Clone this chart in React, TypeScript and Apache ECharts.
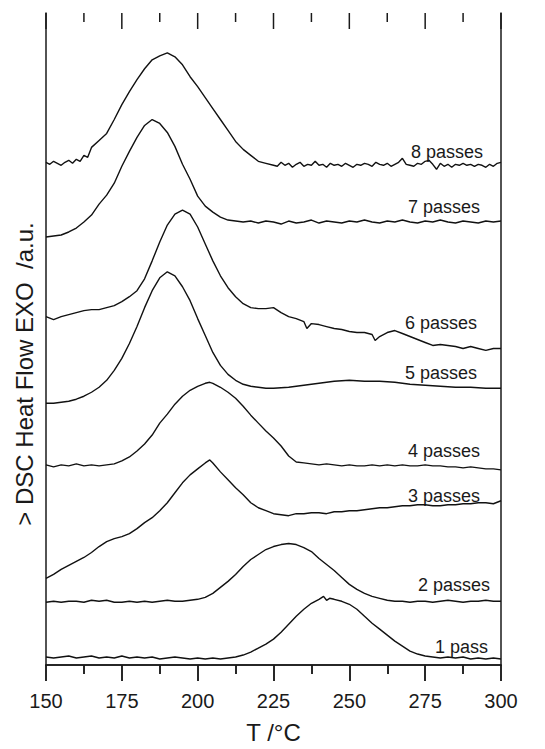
import React, { useEffect, useRef } from "react";
import * as echarts from "echarts";

// Temperature axis (°C)
const xTicks = [150, 175, 200, 225, 250, 275, 300];
// tick marks along the top frame: [T, isMajor]
const topTicks: [number, number][] = [
  [150, 1], [162.5, 0], [175, 1], [187.5, 0], [200, 1], [212.5, 0], [225, 1],
  [237.5, 0], [250, 1], [262.5, 0], [275, 1], [287.5, 0], [300, 1],
];

// DSC traces (heat flow, a.u., vertically offset as in the figure)
const pass1: [number, number][] = [
  [150, 8], [152.5, 7], [155, 8], [157.5, 9], [160, 7], [162.5, 8], [165, 9], [167.5, 7], [170, 8], [172.5, 7],
  [175, 9], [177.5, 7], [180, 8], [182.5, 7], [185, 8], [187.5, 6], [190, 7], [192.5, 8], [195, 7], [197.5, 6],
  [200, 7], [202.5, 6], [205, 7], [207.5, 6], [210, 7], [212.5, 8], [215, 10], [217.5, 13], [220, 17], [222.5, 21],
  [225, 26], [227.5, 33], [230, 41], [232.5, 49], [235, 56], [237.5, 62], [240, 66], [241.5, 69], [242.5, 65], [243.5, 67],
  [245, 66], [247.5, 64], [250, 61], [252.5, 56], [255, 49], [257.5, 42], [260, 36], [262.5, 30], [265, 24], [267.5, 19],
  [270, 14], [272.5, 11], [275, 9], [277.5, 8], [280, 7], [282.5, 8], [285, 7], [287.5, 8], [290, 6], [292.5, 7],
  [295, 6], [297.5, 7], [300, 6],
];
const pass2: [number, number][] = [
  [150, 63], [152.5, 64], [155, 63], [157.5, 64], [160, 64], [162.5, 63], [165, 65], [167.5, 64], [170, 65], [172.5, 63],
  [175, 63], [177.5, 64], [180, 63], [182.5, 64], [185, 63], [187.5, 64], [190, 65], [192.5, 64], [195, 64], [197.5, 65],
  [200, 66], [202.5, 68], [205, 72], [207.5, 78], [210, 84], [212.5, 91], [215, 99], [217.5, 106], [220, 111], [222.5, 116],
  [225, 119], [227.5, 121], [230, 122], [232.5, 121], [235, 118], [237.5, 114], [240, 107], [242.5, 101], [245, 95], [247.5, 88],
  [250, 81], [252.5, 76], [255, 72], [257.5, 69], [260, 67], [262.5, 65], [265, 64], [267.5, 64], [270, 63], [272.5, 64],
  [275, 64], [277.5, 63], [280, 64], [282.5, 65], [285, 64], [287.5, 63], [290, 64], [292.5, 64], [295, 65], [297.5, 64],
  [300, 64],
];
const pass3: [number, number][] = [
  [150, 87], [152.5, 91], [155, 96], [157.5, 100], [160, 104], [162.5, 108], [165, 113], [167.5, 119], [170, 124], [172.5, 127],
  [175, 129], [177.5, 132], [180, 137], [182.5, 143], [185, 148], [187.5, 155], [190, 163], [192.5, 173], [195, 183], [197.5, 191],
  [200, 197], [202.5, 203], [204, 206], [205, 203], [207.5, 194], [210, 186], [212.5, 178], [215, 171], [217.5, 163], [220, 158],
  [222.5, 155], [225, 152], [227.5, 151], [230, 150], [232.5, 152], [235, 152], [237.5, 153], [240, 153], [242.5, 152], [245, 154],
  [247.5, 154], [250, 155], [252.5, 155], [255, 156], [257.5, 157], [260, 158], [262.5, 158], [265, 159], [267.5, 160], [270, 160],
  [272.5, 161], [275, 161], [277.5, 160], [280, 160], [282.5, 161], [285, 161], [287.5, 162], [290, 162], [292.5, 163], [295, 163],
  [297.5, 162], [300, 165],
];
const pass4: [number, number][] = [
  [150, 201], [152.5, 199], [155, 201], [157.5, 200], [160, 202], [162.5, 200], [165, 201], [167.5, 200], [170, 201], [172.5, 202],
  [175, 205], [177.5, 209], [180, 215], [182.5, 222], [185, 231], [187.5, 243], [190, 252], [192.5, 262], [195, 270], [197.5, 276],
  [200, 280], [202.5, 283], [204, 284], [205, 283], [207.5, 279], [210, 274], [212.5, 268], [215, 260], [217.5, 251], [220, 243],
  [222.5, 235], [225, 228], [227.5, 220], [230, 210], [232.5, 204], [235, 203], [237.5, 202], [240, 201], [242.5, 202], [245, 201],
  [247.5, 200], [250, 201], [252.5, 200], [255, 200], [257.5, 201], [260, 200], [262.5, 201], [265, 200], [267.5, 201], [270, 200],
  [272.5, 200], [275, 201], [277.5, 200], [280, 200], [282.5, 199], [285, 199], [287.5, 198], [290, 199], [292.5, 198], [295, 197],
  [297.5, 197], [300, 196],
];
const pass5: [number, number][] = [
  [150, 263], [152.5, 263], [155, 264], [157.5, 265], [160, 267], [162.5, 270], [165, 274], [167.5, 279], [170, 286], [172.5, 296],
  [175, 308], [177.5, 323], [180, 340], [182.5, 359], [185, 376], [187.5, 389], [190, 395], [192.5, 391], [195, 380], [197.5, 366],
  [200, 348], [202.5, 331], [205, 314], [207.5, 301], [210, 292], [212.5, 286], [215, 282], [217.5, 280], [220, 279], [222.5, 278],
  [225, 278], [230, 279], [235, 281], [240, 283], [245, 285], [250, 286], [255, 285], [260, 285], [265, 284], [270, 282],
  [275, 281], [280, 280], [285, 279], [290, 279], [295, 278], [300, 278],
];
const pass6: [number, number][] = [
  [150, 350], [152.5, 347], [155, 350], [157.5, 352], [160, 354], [162.5, 356], [165, 357], [167.5, 357], [170, 359], [172.5, 361],
  [175, 365], [177.5, 370], [180, 376], [182.5, 388], [185, 406], [187.5, 425], [190, 442], [192.5, 453], [195, 457], [197.5, 453],
  [200, 440], [202.5, 423], [205, 406], [207.5, 391], [210, 379], [212.5, 370], [215, 363], [217.5, 359], [220, 358], [222.5, 358],
  [225, 359], [227.5, 354], [230, 350], [232.5, 348], [235, 345], [236, 338], [237.5, 343], [240, 342], [242.5, 340], [245, 338],
  [247.5, 337], [250, 335], [252.5, 334], [255, 334], [257.5, 332], [258.5, 326], [260, 330], [262.5, 334], [265, 336], [267.5, 333],
  [270, 330], [272.5, 327], [275, 324], [277.5, 321], [280, 322], [282.5, 321], [285, 320], [287.5, 318], [290, 320], [292.5, 318],
  [295, 316], [297.5, 318], [300, 318],
];
const pass7: [number, number][] = [
  [150, 430], [152.5, 431], [155, 432], [157.5, 435], [160, 439], [162.5, 445], [165, 452], [167.5, 463], [170, 472], [172.5, 484],
  [175, 501], [177.5, 516], [180, 530], [182.5, 542], [185, 548], [187.5, 544], [190, 535], [192.5, 521], [195, 503], [197.5, 488],
  [200, 471], [202.5, 461], [205, 455], [207.5, 450], [210, 447], [212.5, 446], [215, 445], [217.5, 446], [220, 444], [222.5, 446],
  [225, 445], [227.5, 443], [230, 446], [232.5, 444], [235, 445], [237.5, 447], [240, 444], [242.5, 446], [245, 445], [247.5, 444],
  [250, 446], [252.5, 445], [255, 447], [257.5, 445], [260, 444], [262.5, 446], [265, 445], [267.5, 447], [270, 445], [272.5, 444],
  [275, 446], [277.5, 445], [280, 447], [282.5, 445], [285, 444], [287.5, 446], [290, 445], [292.5, 444], [295, 446], [297.5, 445],
  [300, 446],
];
const pass8: [number, number][] = [
  [150, 505], [151.25, 503], [152.5, 506], [153.75, 504], [155, 502], [156.25, 505], [157.5, 507], [158.75, 504], [160, 508], [161.25, 506],
  [162.5, 512], [163.75, 510], [165, 520], [167.5, 527], [170, 534], [172.5, 548], [175, 563], [177.5, 576], [180, 588], [182.5, 599],
  [185, 608], [187.5, 612], [190, 615], [192.5, 611], [195, 603], [197.5, 591], [200, 581], [202.5, 570], [205, 559], [207.5, 548],
  [210, 537], [212.5, 526], [215, 518], [217.5, 512], [220, 506], [222.5, 504], [225, 502], [226.25, 501], [227.5, 505], [228.75, 502],
  [230, 504], [231.25, 500], [232.5, 503], [233.75, 505], [235, 501], [236.25, 503], [237.5, 502], [238.75, 506], [240, 502], [241.25, 503],
  [242.5, 500], [243.75, 504], [245, 502], [246.25, 503], [247.5, 501], [248.75, 504], [250, 502], [251.25, 500], [252.5, 503], [253.75, 502],
  [255, 504], [256.25, 503], [257.5, 501], [258.75, 505], [260, 503], [261.25, 502], [262.5, 504], [263.75, 501], [265, 503], [266.25, 505],
  [267.5, 509], [268.75, 503], [270, 502], [271.25, 501], [272.5, 504], [273.75, 503], [275, 506], [276.25, 507], [277.5, 503], [278.75, 498],
  [280, 504], [281.25, 501], [282.5, 503], [283.75, 500], [285, 503], [286.25, 502], [287.5, 504], [288.75, 502], [290, 503], [291.25, 501],
  [292.5, 503], [293.75, 502], [295, 500], [296.25, 503], [297.5, 501], [298.75, 504], [300, 505],
];

const seriesNames = ["1 pass", "2 passes", "3 passes", "4 passes", "5 passes", "6 passes", "7 passes", "8 passes"];
const seriesData = [pass1, pass2, pass3, pass4, pass5, pass6, pass7, pass8];

const Y_MAX = 655;
const FONT = "'Liberation Sans', Arial, Helvetica, sans-serif";
const INK = "#1a1a1a";

export default function App() {
  const ref = useRef<HTMLDivElement>(null);
  useEffect(() => {
    if (!ref.current) return;
    const chart = echarts.init(ref.current, null, { renderer: "svg" });

    // label anchors (right edge x px, middle y px)
    const labelPos: [number, number][] = [
      [488, 647], [490, 585], [480, 496], [480, 451], [477, 373], [477, 323], [480, 207], [483, 152],
    ];

    const lineSeries = seriesData.map((d, i) => ({
      name: seriesNames[i],
      type: "line",
      data: d,
      xAxisIndex: 0,
      yAxisIndex: 0,
      showSymbol: false,
      symbol: "none",
      lineStyle: { color: "#111", width: 1.4 },
    }));

    const topTickSeries = {
      type: "custom",
      clip: false,
      z: 10,
      data: topTicks,
      renderItem: (_p: any, api: any) => {
        const p = api.coord([api.value(0), Y_MAX]);
        const len = api.value(1) === 1 ? 16 : 9;
        return {
          type: "line",
          shape: { x1: p[0], y1: p[1], x2: p[0], y2: p[1] + len },
          style: { stroke: INK, lineWidth: 1.5 },
        };
      },
    };

    chart.setOption({
      animation: false,
      backgroundColor: "#ffffff",
      grid: { left: 46, right: 44, top: 13, bottom: 81 },
      xAxis: [
        {
          type: "value",
          min: 150,
          max: 300,
          interval: 25,
          position: "bottom",
          splitLine: { show: false },
          axisLine: { show: true, lineStyle: { color: INK, width: 1.5 } },
          axisTick: { show: true, length: 16, lineStyle: { color: INK, width: 1.5 } },
          minorTick: { show: true, splitNumber: 2, length: 9, lineStyle: { color: INK, width: 1.5 } },
          axisLabel: {
            show: true,
            fontSize: 20,
            color: INK,
            fontFamily: FONT,
            margin: 26,
            formatter: (v: number) => (xTicks.includes(v) ? String(v) : ""),
          },
          name: "T /°C",
          nameLocation: "middle",
          nameGap: 55,
          nameTextStyle: { fontSize: 24, color: INK, fontFamily: FONT },
        },
        {
          type: "value",
          min: 150,
          max: 300,
          interval: 25,
          position: "top",
          splitLine: { show: false },
          axisLine: { show: true, lineStyle: { color: INK, width: 1.5 } },
          axisTick: { show: true, inside: true, length: 16, lineStyle: { color: INK, width: 1.5 } },
          minorTick: { show: true, splitNumber: 2, length: 9, lineStyle: { color: INK, width: 1.5 } },
          axisLabel: { show: false },
        },
      ],
      yAxis: [
        {
          type: "value",
          min: 0,
          max: Y_MAX,
          position: "left",
          splitLine: { show: false },
          axisTick: { show: false },
          axisLabel: { show: false },
          axisLine: { show: true, lineStyle: { color: INK, width: 1.5 } },
          name: "> DSC Heat Flow EXO \u00a0/a.u.",
          nameLocation: "middle",
          nameRotate: 90,
          nameGap: 10,
          nameTextStyle: { fontSize: 24, color: INK, fontFamily: FONT, padding: [0, 70, 0, 0] },
        },
        {
          type: "value",
          min: 0,
          max: Y_MAX,
          position: "right",
          splitLine: { show: false },
          axisTick: { show: false },
          axisLabel: { show: false },
          axisLine: { show: true, lineStyle: { color: INK, width: 1.5 } },
        },
      ],
      series: [...lineSeries, topTickSeries],
      graphic: seriesNames.map((t, i) => ({
        type: "text",
        x: labelPos[i][0],
        y: labelPos[i][1],
        style: {
          text: t,
          fill: INK,
          font: `18px ${FONT}`,
          align: "right",
          verticalAlign: "middle",
        },
      })),
    });
    return () => chart.dispose();
  }, []);
  return <div ref={ref} style={{ position: "fixed", left: 0, top: 0, width: 545, height: 749 }} />;
}
